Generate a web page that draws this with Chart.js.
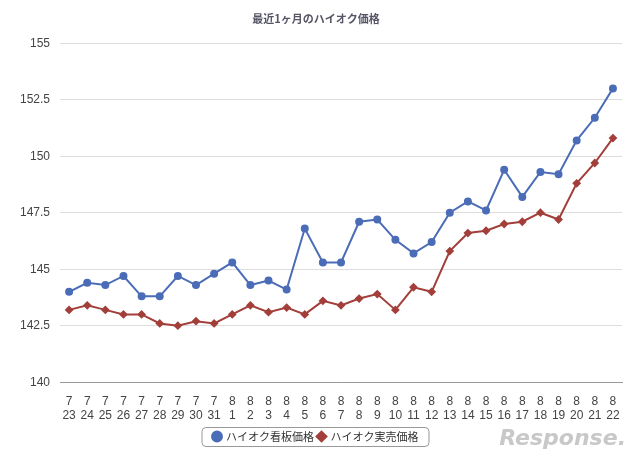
<!DOCTYPE html>
<html><head><meta charset="utf-8">
<script src="https://cdn.jsdelivr.net/npm/chart.js@4"></script>
<style>body{margin:0;background:#fff}#w{position:relative;width:640px;height:458px}
#logo{position:absolute;right:14px;bottom:8px;font:italic bold 22px "DejaVu Sans";color:#c8c8c8}</style>
</head><body><div id="w"><canvas id="c" width="640" height="458"></canvas><div id="logo">Response.</div></div>
<script>
const categories=[["7","23"],["7","24"],["7","25"],["7","26"],["7","27"],["7","28"],["7","29"],["7","30"],["7","31"],["8","1"],["8","2"],["8","3"],["8","4"],["8","5"],["8","6"],["8","7"],["8","8"],["8","9"],["8","10"],["8","11"],["8","12"],["8","13"],["8","14"],["8","15"],["8","16"],["8","17"],["8","18"],["8","19"],["8","20"],["8","21"],["8","22"]];
const kanban=[144.0,144.4,144.3,144.7,143.8,143.8,144.7,144.3,144.8,145.3,144.3,144.5,144.1,146.8,145.3,145.3,147.1,147.2,146.3,145.7,146.2,147.5,148.0,147.6,149.4,148.2,149.3,149.2,150.7,151.7,153.0];
const jitsubai=[143.2,143.4,143.2,143.0,143.0,142.6,142.5,142.7,142.6,143.0,143.4,143.1,143.3,143.0,143.6,143.4,143.7,143.9,143.2,144.2,144.0,145.8,146.6,146.7,147.0,147.1,147.5,147.2,148.8,149.7,150.8];
const yTicks=[140,142.5,145,147.5,150,152.5,155];
const boxPlugin={id:'box',afterDraw(ch){const l=ch.legend;if(!l||!l.legendHitBoxes.length)return;const b=l.legendHitBoxes;const x0=b[0].left-12,x1=b[b.length-1].left+b[b.length-1].width+10,y0=b[0].top-4,y1=b[0].top+b[0].height+4;const c=ch.ctx;c.save();c.strokeStyle='#999';c.lineWidth=1;c.beginPath();c.roundRect(x0+.5,y0+.5,x1-x0,y1-y0,4);c.stroke();c.restore();}};
new Chart(document.getElementById('c'),{type:'line',data:{labels:categories,datasets:[
{label:'ハイオク看板価格',data:kanban,borderColor:'#4b6cb7',backgroundColor:'#4b6cb7',borderWidth:2,pointStyle:'circle',pointRadius:3,pointBackgroundColor:'#4b6cb7',tension:0},
{label:'ハイオク実売価格',data:jitsubai,borderColor:'#a33f3a',backgroundColor:'#a33f3a',borderWidth:2,pointStyle:'rectRot',pointRadius:3,pointBackgroundColor:'#a33f3a',tension:0}]},
plugins:[boxPlugin],
options:{responsive:false,animation:false,layout:{padding:{left:10,right:18,top:0,bottom:6}},
plugins:{title:{display:true,text:'最近1ヶ月のハイオク価格',color:'#556',font:{size:11,family:'Noto Sans CJK JP'},padding:{top:12,bottom:18}},
legend:{position:'bottom',labels:{usePointStyle:true,boxWidth:7,boxHeight:7,color:'#333',font:{size:11,family:'Noto Sans CJK JP'},padding:4}},tooltip:{enabled:false}},
scales:{x:{offset:true,grid:{display:false},border:{color:'#999'},ticks:{color:'#444',font:{size:12,family:'Liberation Sans',lineHeight:1.2},maxRotation:0,autoSkip:false,padding:4}},
y:{min:140,max:155,afterBuildTicks(a){a.ticks=yTicks.map(v=>({value:v}));},grid:{color:'#ddd',drawTicks:false},border:{display:false},ticks:{color:'#444',font:{size:12,family:'Liberation Sans'},padding:10}}}}});
</script></body></html>
